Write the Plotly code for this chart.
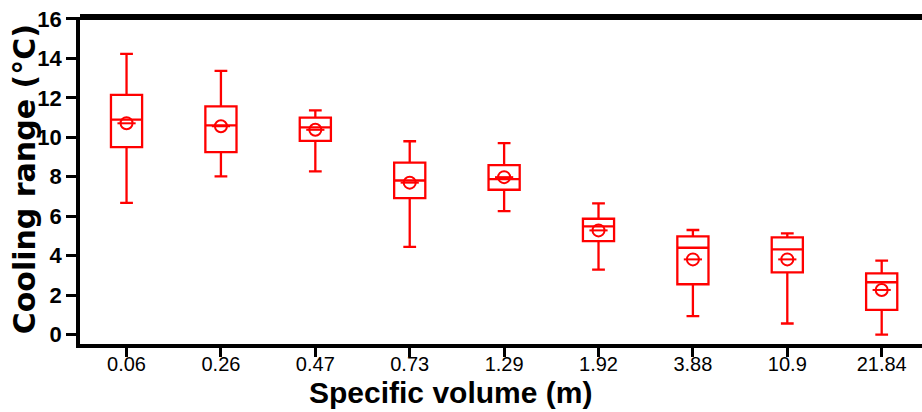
import plotly.graph_objects as go

# Specific volume classes (x categories)
categories = ["0.06", "0.26", "0.47", "0.73", "1.29", "1.92", "3.88", "10.9", "21.84"]

# Box statistics of the cooling range (°C) per class
upper_whisker = [14.23, 13.37, 11.37, 9.80, 9.70, 6.65, 5.30, 5.13, 3.75]
q3_values = [12.15, 11.57, 11.00, 8.72, 8.59, 5.87, 4.98, 4.93, 3.10]
median_values = [10.90, 10.60, 10.50, 7.81, 7.88, 5.48, 4.40, 4.32, 2.65]
q1_values = [9.50, 9.25, 9.82, 6.92, 7.34, 4.74, 2.55, 3.15, 1.25]
lower_whisker = [6.68, 8.02, 8.27, 4.44, 6.26, 3.29, 0.93, 0.56, 0.00]
mean_values = [10.71, 10.56, 10.38, 7.70, 7.98, 5.28, 3.81, 3.81, 2.26]

y_ticks = [0, 2, 4, 6, 8, 10, 12, 14, 16]

RED = "#FF0000"
ARIAL = "Liberation Sans, Arial, sans-serif"

fig = go.Figure()

fig.add_trace(go.Box(
    x=categories,
    q1=q1_values,
    median=median_values,
    q3=q3_values,
    lowerfence=lower_whisker,
    upperfence=upper_whisker,
    boxpoints=False,
    width=0.33,
    whiskerwidth=0.41,
    line=dict(color=RED, width=2.3),
    fillcolor="rgba(0,0,0,0)",
    showlegend=False,
    hoverinfo="skip",
))

# Mean markers: open circle with a horizontal bar through it
fig.add_trace(go.Scatter(
    x=categories, y=mean_values, mode="markers",
    marker=dict(symbol="circle-open", size=12, color=RED, line=dict(color=RED, width=2)),
    showlegend=False, hoverinfo="skip",
))
fig.add_trace(go.Scatter(
    x=categories, y=mean_values, mode="markers",
    marker=dict(symbol="line-ew-open", size=13, color=RED, line=dict(color=RED, width=2)),
    showlegend=False, hoverinfo="skip",
))

fig.update_layout(
    width=922, height=412,
    margin=dict(l=80, r=0, t=17, b=68),
    paper_bgcolor="white",
    plot_bgcolor="white",
    xaxis=dict(
        type="category",
        range=[-0.493, 8.427],
        showgrid=False, zeroline=False,
        showline=True, linecolor="black", linewidth=4,
        ticks="outside", ticklen=9, tickwidth=3, tickcolor="black",
        ticklabelstandoff=-10,
        tickfont=dict(family=ARIAL, size=20, color="black"),
    ),
    yaxis=dict(
        range=[-0.48, 16.1],
        tickvals=y_ticks,
        showgrid=False, zeroline=False,
        showline=True, linecolor="black", linewidth=3.5,
        ticks="outside", ticklen=10, tickwidth=3, tickcolor="black",
        tickfont=dict(family=ARIAL, size=22, color="black", weight="bold"),
    ),
    shapes=[dict(
        type="line", xref="paper", yref="paper",
        x0=0, x1=1, y0=1, y1=1,
        line=dict(color="black", width=6),
    )],
    annotations=[
        dict(
            text="<b>Specific volume (m)</b>",
            xref="paper", yref="paper", x=0.4406, y=-0.2049,
            xanchor="center", yanchor="bottom", showarrow=False,
            font=dict(family=ARIAL, size=30, color="black"),
        ),
        dict(
            text="<b>Cooling range (°C)</b>",
            xref="paper", yref="paper", x=-0.066, y=0.505,
            xanchor="center", yanchor="middle", showarrow=False,
            textangle=-90,
            font=dict(family="DejaVu Sans, sans-serif", size=30, color="black"),
        ),
    ],
)

fig.write_html("out.html")
